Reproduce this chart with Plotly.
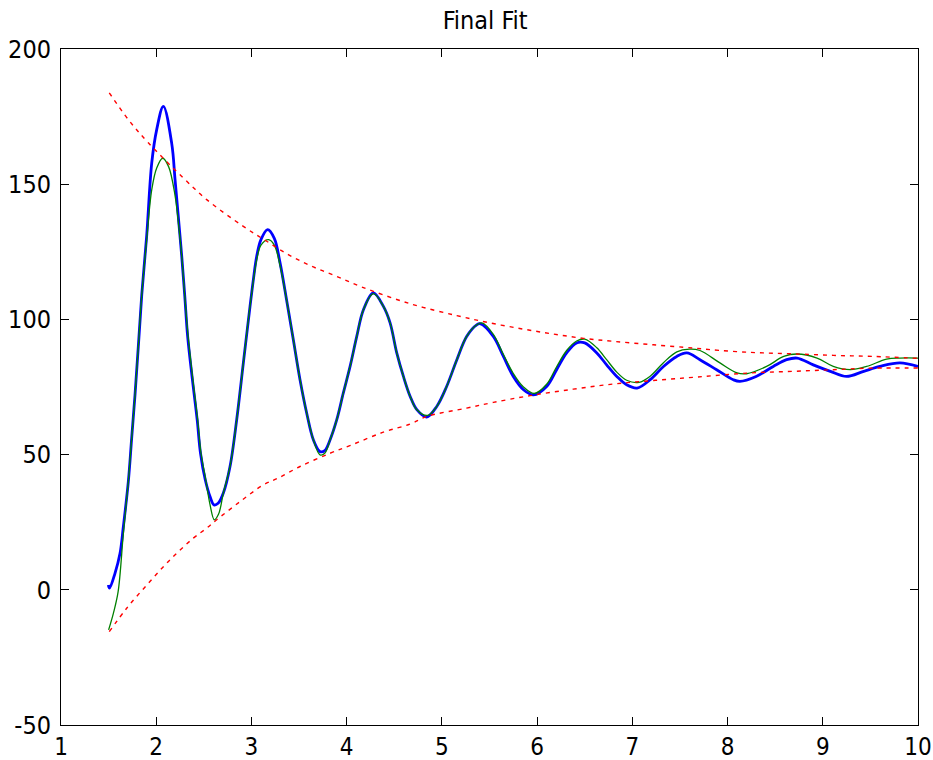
import plotly.graph_objects as go

# Measured signal (blue)
data_x = [1.497, 1.51, 1.567, 1.62, 1.655, 1.707, 1.742, 1.777, 1.812, 1.848, 1.90, 1.953, 2.005, 2.075,
          2.163, 2.197, 2.232, 2.268, 2.30, 2.33, 2.38, 2.43, 2.465, 2.515, 2.565, 2.607, 2.65, 2.705, 2.775,
          2.845, 2.915, 2.985, 3.02, 3.055, 3.10, 3.17, 3.24, 3.30, 3.37, 3.44, 3.51, 3.58, 3.65, 3.72, 3.77,
          3.826, 3.896, 3.965, 4.036, 4.106, 4.176, 4.28, 4.386, 4.456, 4.526, 4.596, 4.667, 4.737, 4.84,
          4.946, 5.05, 5.157, 5.26, 5.366, 5.40, 5.54, 5.646, 5.75, 5.857, 5.962, 6.10, 6.205, 6.31, 6.415,
          6.50, 6.627, 6.73, 6.837, 6.94, 7.05, 7.187, 7.327, 7.467, 7.572, 7.71, 7.885, 8.06, 8.13, 8.30,
          8.48, 8.62, 8.73, 8.90, 9.08, 9.25, 9.43, 9.60, 9.81, 10.0]
data_y = [1.8, 0.6, 6.1, 13.5, 23.4, 40.0, 56.0, 72.0, 90.0, 109.1, 131.0, 157.9, 170.2, 178.8,
          165.0, 152.0, 138.0, 123.3, 108.5, 93.7, 77.7, 62.9, 50.5, 40.7, 34.5, 31.4, 32.0, 35.8, 45.6,
          62.9, 83.9, 104.8, 114.7, 123.3, 129.5, 133.2, 130.0, 121.0, 107.0, 92.5, 77.7, 65.4, 55.5, 51.1, 51.5,
          55.5, 62.9, 72.8, 82.6, 93.7, 103.6, 109.8, 104.8, 98.7, 87.6, 78.9, 71.5, 66.6, 63.9,
          67.8, 75.2, 85.1, 93.7, 98.0, 98.4, 93.7, 86.3, 78.9, 74.0, 72.1, 75.2, 81.4, 87.6, 91.3,
          91.3, 87.6, 83.2, 78.9, 75.8, 74.6, 77.7, 82.6, 86.3, 87.6, 85.1, 81.4, 77.7, 77.1, 78.9,
          82.6, 85.1, 85.7, 83.2, 80.8, 78.9, 80.8, 82.6, 83.9, 82.6]

# Fitted curve (green)
fit_x = [1.50, 1.55, 1.60, 1.655, 1.707, 1.742, 1.777, 1.812, 1.848, 1.90, 1.953, 2.005, 2.068, 2.13,
         2.197, 2.232, 2.268, 2.30, 2.335, 2.385, 2.435, 2.47, 2.52, 2.565, 2.61, 2.655, 2.705, 2.775,
         2.845, 2.915, 2.985, 3.055, 3.10, 3.18, 3.24, 3.30, 3.37, 3.44, 3.51, 3.58, 3.65, 3.72, 3.77,
         3.826, 3.896, 3.965, 4.036, 4.106, 4.176, 4.28, 4.386, 4.456, 4.526, 4.596, 4.667, 4.737, 4.85,
         4.946, 5.05, 5.157, 5.26, 5.366, 5.42, 5.54, 5.646, 5.75, 5.857, 5.97, 6.10, 6.205, 6.31, 6.415,
         6.50, 6.627, 6.73, 6.837, 6.94, 7.07, 7.187, 7.327, 7.467, 7.60, 7.71, 7.92, 8.10, 8.20, 8.41,
         8.59, 8.73, 8.94, 9.11, 9.29, 9.46, 9.67, 9.81, 10.0]
fit_y = [-14.8, -8.7, -0.7, 20.9, 40.0, 56.0, 72.0, 90.0, 109.1, 129.5, 148.0, 156.0, 159.6, 156.5,
         146.0, 136.0, 123.3, 108.5, 93.7, 77.7, 62.9, 50.5, 40.7, 31.5, 25.9, 28.0, 35.8, 45.6,
         62.9, 83.9, 104.8, 122.0, 127.5, 129.5, 127.5, 120.0, 107.0, 92.5, 77.7, 65.4, 55.5, 49.9, 50.5,
         55.5, 62.9, 72.8, 82.6, 93.7, 103.6, 109.5, 104.8, 98.7, 87.6, 78.9, 71.5, 66.6, 64.5,
         67.8, 75.2, 85.1, 93.7, 98.0, 98.7, 94.5, 87.0, 80.0, 75.0, 72.6, 76.0, 82.5, 88.5, 92.0,
         92.7, 89.5, 85.1, 80.5, 77.5, 76.7, 79.0, 84.0, 88.0, 89.0, 88.5, 83.9, 80.2, 79.9, 82.6,
         86.3, 87.2, 85.7, 82.6, 81.4, 82.6, 85.3, 85.7, 85.7]

# Upper envelope (red dashed)
upper_x = [1.507, 1.707, 1.917, 2.285, 2.53, 2.915, 3.16, 3.405, 3.65, 3.895, 4.158, 4.667, 5.157, 5.506,
           5.856, 6.17, 6.486, 6.80, 7.22, 7.64, 7.82, 8.24, 8.66, 9.11, 9.53, 10.0]
upper_y = [183.8, 173.9, 165.3, 152.3, 144.3, 134.4, 128.9, 123.6, 119.4, 115.9, 112.0, 105.8, 101.4, 98.7,
           96.4, 94.6, 93.0, 91.9, 90.6, 89.4, 88.8, 87.8, 87.3, 86.7, 86.3, 85.6]

# Lower envelope (red dashed)
lower_x = [1.507, 1.69, 1.917, 2.145, 2.39, 2.53, 2.635, 2.88, 3.125, 3.28, 3.51, 3.826, 4.04, 4.386,
           4.667, 4.84, 5.26, 5.54, 5.926, 6.38, 6.80, 7.22, 7.68, 8.24, 8.69, 9.11, 9.53, 10.0]
lower_y = [-15.5, -6.8, 2.4, 11.1, 19.1, 22.8, 25.9, 32.6, 38.8, 41.3, 45.6, 50.5, 53.4, 58.3,
           61.3, 64.1, 67.2, 69.3, 71.8, 74.2, 76.1, 77.4, 78.7, 80.2, 80.8, 81.4, 82.0, 82.0]

x_ticks = [1, 2, 3, 4, 5, 6, 7, 8, 9, 10]
y_ticks = [-50, 0, 50, 100, 150, 200]

FONT = "DejaVu Sans Condensed, Liberation Sans, sans-serif"

fig = go.Figure()
fig.add_trace(go.Scatter(x=data_x, y=data_y, mode="lines", line=dict(color="#0000FF", width=2.8, shape="spline"),
                         showlegend=False))
fig.add_trace(go.Scatter(x=fit_x, y=fit_y, mode="lines", line=dict(color="#008000", width=1.3, shape="spline"),
                         showlegend=False))
for xs, ys in ((upper_x, upper_y), (lower_x, lower_y)):
    fig.add_trace(go.Scatter(x=xs, y=ys, mode="lines",
                             line=dict(color="#FF0000", width=1.4, dash="4px,5px", shape="spline"),
                             showlegend=False))

axis_common = dict(showline=True, linecolor="black", linewidth=1, mirror="allticks", ticks="inside",
                   ticklen=8, tickcolor="black", showgrid=False, zeroline=False, automargin=False)
fig.update_xaxes(range=[1, 10], tickvals=x_ticks, ticktext=[str(v) for v in x_ticks],
                 ticklabelstandoff=0, tickfont=dict(family=FONT, size=24, color="black"), **axis_common)
fig.update_yaxes(range=[-50, 200], tickvals=y_ticks, ticktext=[str(v) for v in y_ticks],
                 ticklabelstandoff=4, tickfont=dict(family=FONT, size=25, color="black"), **axis_common)

fig.update_layout(
    width=933, height=760,
    margin=dict(l=61, r=15, t=49, b=35),
    paper_bgcolor="white", plot_bgcolor="white",
    title=dict(text="Final Fit", x=0.52, xanchor="center", y=0.973, yanchor="middle",
               font=dict(family=FONT, size=25, color="black")),
)

fig.write_html("out.html")
